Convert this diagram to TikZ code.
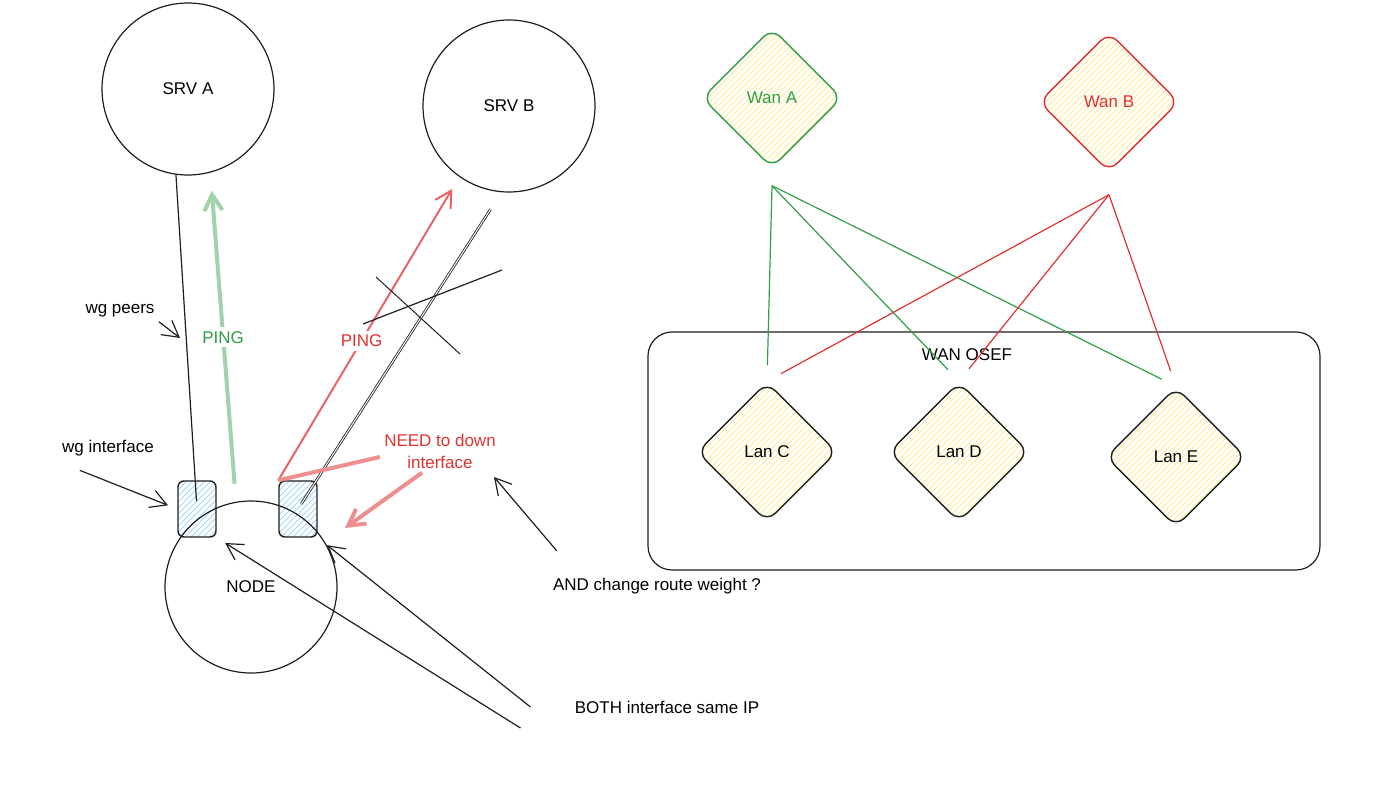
\documentclass[tikz,border=0pt]{standalone}
\usepackage{fontspec}
\setmainfont{Liberation Sans}
\usetikzlibrary{arrows.meta,shapes.geometric,patterns}

\definecolor{okgreen}{HTML}{2F9E44}
\definecolor{kored}{HTML}{E03131}
\definecolor{ink}{HTML}{1E1E1E}
\definecolor{hatchblue}{HTML}{A5D8FF}
\definecolor{hatchyellow}{HTML}{FFEC99}

\begin{document}
\begin{tikzpicture}[x=0.5pt,y=-0.5pt,>={Straight Barb[length=8pt,width=9pt]},
  every node/.style={font=\fontsize{8.5}{11}\selectfont,inner sep=2pt},
  host/.style={draw=ink,circle,minimum size=86pt,line width=0.6pt},
  iface/.style={draw=ink,rounded corners=3pt,minimum width=19pt,minimum height=28pt,line width=0.7pt,pattern=north east lines,pattern color=hatchblue},
  box/.style={diamond,aspect=1,rounded corners=6pt,minimum size=70pt,inner sep=0pt,line width=0.7pt,pattern=north east lines,pattern color=hatchyellow},
  wire/.style={ink,line width=0.6pt}]
\useasboundingbox (0,0) rectangle (1398,788);

% left side: servers and node
\node[host] (srva) at (188,89) {SRV A};
\node[host] (srvb) at (509,106) {SRV B};
\node[iface] (ifl) at (197,509) {};
\node[iface] (ifr) at (298,509) {};
\node[host] (nd) at (251,587) {NODE};

\node (wgpeers) at (120,311) {wg peers};
\node (wgif) at (108,448) {wg interface};
\node[text=kored,align=center] (need) at (440,451) {NEED to down\\interface};
\node (route) at (657,586) {AND change route weight ?};
\node (both) at (667,707) {BOTH interface same IP};

\coordinate (peerpt) at (180,338);
\coordinate (downpt) at (345,528);
\coordinate (weightpt) at (494,477);

\draw[wire,shorten >=4pt] (srva.262) -- (ifl.center);
\draw[->,line width=2pt,okgreen!45,shorten <=9pt,shorten >=9pt] (nd.100) -- node[fill=white,text=okgreen,pos=0.5] {PING} (srva.285);
\draw[->,line width=1pt,kored!75,shorten >=7pt] (ifr.north west) -- node[fill=white,text=kored,pos=0.46] {PING} (srvb.235);
\draw[ink,double,double distance=0.5pt,line width=0.4pt,shorten <=3pt,shorten >=10pt] (ifr.center) -- (srvb.265);

% crossed out
\draw[wire,line width=0.5pt] (376,277) -- (460,354);
\draw[wire] (363,324) -- (502,270);

\draw[->,wire] (wgpeers.south east) -- (peerpt);
\draw[->,wire,shorten >=5pt] ([xshift=11pt,yshift=-5pt]wgif.south west) -- (ifl.west);
\draw[kored!55,line width=2pt] ([yshift=-3pt]need.west) -- (ifr.north west);
\draw[->,kored!55,line width=2pt] ([xshift=-9pt]need.south) -- (downpt);
\draw[->,wire] ([shift={(4pt,11.5pt)}]route.north west) -- (weightpt);
\draw[->,wire,shorten >=5pt] ([shift={(-25pt,-10.5pt)}]both.west) -- (ifl.south east);
\draw[->,wire,shorten >=6pt] ([xshift=-20pt]both.west) -- (ifr.south east);

% right side: wans and lans
\node[box,draw=okgreen,text=okgreen] (wana) at (772,98) {Wan A};
\node[box,draw=kored,text=kored] (wanb) at (1109,102) {Wan B};
\node[draw=ink,rounded corners=12pt,minimum width=336pt,minimum height=119pt,line width=0.6pt] (osef) at (984,451) {};
\node (osefl) at (967,355) {WAN OSEF};
\node[box,draw=ink] (lanc) at (767,452) {Lan C};
\node[box,draw=ink] (land) at (959,452) {Lan D};
\node[box,draw=ink] (lane) at (1176,457) {Lan E};

\coordinate (wanafoot) at ([yshift=-8.5pt]wana.south);
\coordinate (wanbfoot) at ([yshift=-11pt]wanb.south);
\foreach \lan in {lanc,land,lane}
  \draw[okgreen,line width=0.6pt,shorten >=8pt] (wanafoot) -- (\lan.north);
\foreach \lan in {lanc,land,lane}
  \draw[kored,line width=0.6pt,shorten >=8pt] (wanbfoot) -- (\lan.north);
\end{tikzpicture}
\end{document}
